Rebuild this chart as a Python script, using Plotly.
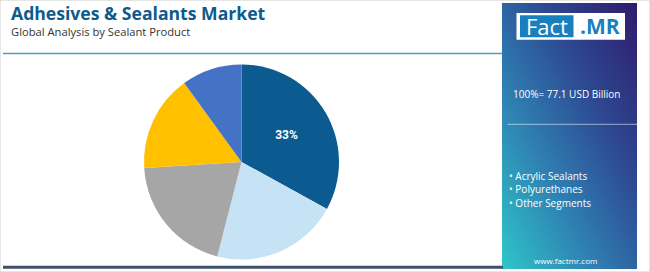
import base64
import plotly.graph_objects as go

# ---- data ----
slice_labels = ["Acrylic Sealants", "Polyurethanes", "Silicones", "Polysulfides", "Other Segments"]
slice_values = [33, 21, 20, 16, 10]
slice_colors = ["#0b5a90", "#c5e3f5", "#a6a6a6", "#ffc000", "#4472c4"]
legend_items = ["Acrylic Sealants", "Polyurethanes", "Other Segments"]
title_text = "Adhesives & Sealants Market"
subtitle_text = "Global Analysis by Sealant Product"
total_text = "100%= 77.1 USD Billion"
site_text = "www.factmr.com"

W, H = 650, 272

def px(x):
    return x / W

def py(y):
    return 1 - y / H

texts = ["%{percent:.0%}"] + [""] * (len(slice_values) - 1)

cx, cy, r = 241.5, 162, 97.5
fig = go.Figure(go.Pie(
    labels=slice_labels,
    values=slice_values,
    sort=False,
    direction="clockwise",
    rotation=0,
    marker=dict(colors=slice_colors, line=dict(width=0)),
    texttemplate=texts,
    textposition="inside",
    insidetextorientation="horizontal",
    textfont=dict(family="Roboto", size=12, color="white", weight="bold"),
    showlegend=False,
    hoverinfo="label+percent",
    domain=dict(x=[px(cx - r), px(cx + r)], y=[py(cy + r), py(cy - r)]),
))

# gradient panel as svg image
svg = """<svg xmlns='http://www.w3.org/2000/svg' width='135' height='266' preserveAspectRatio='none' viewBox='0 0 135 266'>
<defs><linearGradient id='g' x1='1' y1='0' x2='0' y2='1'>
<stop offset='0' stop-color='#2f1a6c'/>
<stop offset='0.35' stop-color='#2d4a92'/>
<stop offset='0.65' stop-color='#2f7fb2'/>
<stop offset='1' stop-color='#2ec6c9'/>
</linearGradient></defs>
<rect width='135' height='266' fill='url(#g)'/></svg>"""
src = "data:image/svg+xml;base64," + base64.b64encode(svg.encode()).decode()

fig.add_layout_image(dict(
    source=src, xref="paper", yref="paper",
    x=px(502), y=py(3), sizex=px(637) - px(502), sizey=py(3) - py(269),
    xanchor="left", yanchor="top", sizing="stretch", layer="below",
))

shapes = [
    # outer frame
    dict(type="rect", xref="paper", yref="paper", x0=0, x1=1, y0=0, y1=1,
         line=dict(color="#dedede", width=1.5), fillcolor="rgba(0,0,0,0)"),
    # header line
    dict(type="line", xref="paper", yref="paper", x0=px(3), x1=px(502), y0=py(53.5), y1=py(53.5),
         line=dict(color="#4f9cc4", width=1.5)),
    # bottom dark line
    dict(type="line", xref="paper", yref="paper", x0=px(3), x1=px(503), y0=py(267.3), y1=py(267.3),
         line=dict(color="#3d5068", width=3)),
    # logo white box
    dict(type="rect", xref="paper", yref="paper", x0=px(516.5), x1=px(625), y0=py(39.7), y1=py(13),
         line=dict(width=0), fillcolor="white"),
    # logo blue box
    dict(type="rect", xref="paper", yref="paper", x0=px(520), x1=px(573.5), y0=py(37.3), y1=py(15.3),
         line=dict(width=0), fillcolor="#1a7fbf"),
    # panel separator
    dict(type="line", xref="paper", yref="paper", x0=px(507.5), x1=px(637), y0=py(124.3), y1=py(124.3),
         line=dict(color="rgba(255,255,255,0.55)", width=1)),
]

annotations = [
    dict(text=title_text, x=px(9), y=py(13), xanchor="left", yanchor="middle",
         font=dict(family="Open Sans", size=17.6, color="#0d5a8c", weight="bold")),
    dict(text=subtitle_text, x=px(9), y=py(31), xanchor="left", yanchor="middle",
         font=dict(family="Open Sans", size=11.2, color="#333333")),
    dict(text="Fact", x=px(546.5), y=py(26.3), xanchor="center", yanchor="middle",
         font=dict(family="Open Sans", size=22, color="white")),
    dict(text=".MR", x=px(599.5), y=py(26.5), xanchor="center", yanchor="middle",
         font=dict(family="Open Sans", size=21, color="#1a7fbf", weight="bold")),
    dict(text=total_text, x=px(510.5), y=py(94.3), xanchor="left", yanchor="middle",
         font=dict(family="Open Sans", size=10, color="white")),
    dict(text=site_text, x=px(565), y=py(260.7), xanchor="center", yanchor="middle",
         font=dict(family="Open Sans", size=8, color="white")),
]
for i, item in enumerate(legend_items):
    annotations.append(dict(text="• " + item, x=px(506.5), y=py(176 + 13.4 * i),
                            xanchor="left", yanchor="middle",
                            font=dict(family="Open Sans", size=10, color="white")))
for a in annotations:
    a.update(xref="paper", yref="paper", showarrow=False)

fig.update_layout(
    width=W, height=H, margin=dict(l=0, r=0, t=0, b=0),
    paper_bgcolor="white", plot_bgcolor="white",
    shapes=shapes, annotations=annotations,
)

fig.write_html("out.html")
